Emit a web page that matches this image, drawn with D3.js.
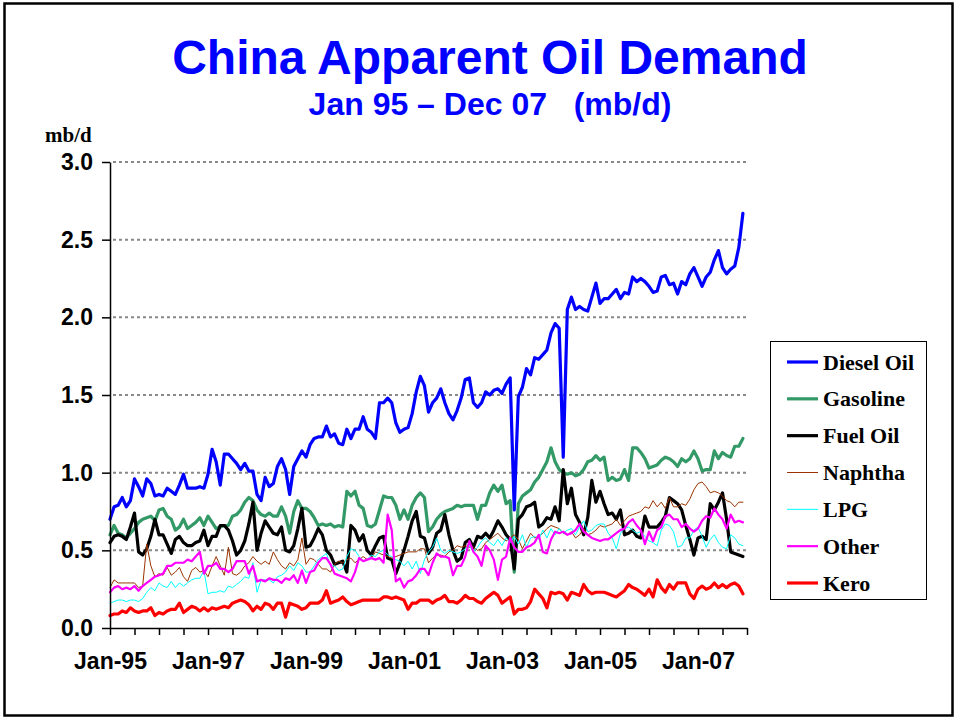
<!DOCTYPE html>
<html>
<head>
<meta charset="utf-8">
<script src="https://cdn.jsdelivr.net/npm/d3@7/dist/d3.min.js"></script>
<style>
  html, body { margin: 0; padding: 0; background: #ffffff; }
  svg { display: block; }
</style>
</head>
<body>
<svg id="chart" width="960" height="721"></svg>
<script>
// ---------------- DATA (mb/d, monthly Jan-95 .. Dec-07) ----------------
const seriesNames = ["Diesel Oil", "Gasoline", "Fuel Oil", "Naphtha", "LPG", "Other", "Kero"];
const xTickLabels = ["Jan-95", "Jan-97", "Jan-99", "Jan-01", "Jan-03", "Jan-05", "Jan-07"];
const yTickValues = [0, 0.5, 1.0, 1.5, 2.0, 2.5, 3.0];

const diesel = [
  0.70, 0.78, 0.79, 0.84, 0.78, 0.82, 0.96, 0.91, 0.85, 0.96, 0.93, 0.85,
  0.86, 0.85, 0.90, 0.88, 0.86, 0.92, 0.99, 0.90, 0.90, 0.90, 0.91, 0.90,
  0.99, 1.15, 1.07, 0.92, 1.12, 1.12, 1.09, 1.06, 1.02, 1.06, 1.01, 1.01,
  0.86, 0.82, 0.97, 0.91, 0.93, 1.04, 1.09, 1.02, 0.86, 1.04, 1.09, 1.14,
  1.10, 1.18, 1.22, 1.23, 1.23, 1.30, 1.23, 1.25, 1.19, 1.18, 1.28, 1.22,
  1.28, 1.28, 1.36, 1.28, 1.26, 1.22, 1.45, 1.45, 1.48, 1.45, 1.32, 1.26,
  1.28, 1.29, 1.38, 1.52, 1.62, 1.56, 1.39, 1.45, 1.48, 1.54, 1.45, 1.38,
  1.34, 1.40, 1.48, 1.60, 1.61, 1.45, 1.42, 1.45, 1.52, 1.50, 1.53, 1.54,
  1.51, 1.57, 1.61, 0.76, 1.49, 1.55, 1.67, 1.63, 1.74, 1.73, 1.76, 1.79,
  1.90, 1.96, 1.93, 1.10, 2.05, 2.13, 2.05, 2.07, 2.05, 2.04, 2.13, 2.22,
  2.09, 2.12, 2.12, 2.15, 2.18, 2.12, 2.16, 2.15, 2.26, 2.23, 2.25, 2.23,
  2.20, 2.16, 2.17, 2.26, 2.27, 2.21, 2.22, 2.15, 2.23, 2.21, 2.28, 2.32,
  2.26, 2.20, 2.26, 2.29, 2.37, 2.43, 2.32, 2.28, 2.31, 2.33, 2.45, 2.67
];
const gasoline = [
  0.60, 0.66, 0.61, 0.60, 0.58, 0.61, 0.64, 0.68, 0.70, 0.71, 0.72, 0.69,
  0.76, 0.77, 0.72, 0.70, 0.63, 0.65, 0.70, 0.64, 0.66, 0.68, 0.71, 0.66,
  0.72, 0.68, 0.64, 0.65, 0.66, 0.66, 0.72, 0.73, 0.76, 0.81, 0.84, 0.82,
  0.76, 0.73, 0.72, 0.74, 0.72, 0.72, 0.78, 0.72, 0.61, 0.75, 0.82, 0.77,
  0.77, 0.75, 0.71, 0.66, 0.67, 0.66, 0.67, 0.65, 0.66, 0.65, 0.88, 0.85,
  0.88, 0.79, 0.77, 0.66, 0.65, 0.67, 0.76, 0.85, 0.84, 0.84, 0.79, 0.70,
  0.76, 0.70, 0.79, 0.84, 0.87, 0.84, 0.62, 0.65, 0.70, 0.73, 0.75, 0.76,
  0.77, 0.79, 0.78, 0.79, 0.79, 0.79, 0.70, 0.79, 0.79, 0.87, 0.92, 0.88,
  0.92, 0.80, 0.82, 0.36, 0.80, 0.85, 0.87, 0.89, 0.94, 0.97, 1.02, 1.07,
  1.16, 1.07, 1.02, 1.00, 0.99, 1.00, 0.98, 0.99, 1.02, 1.07, 1.08, 1.11,
  1.08, 1.10, 0.95, 0.97, 0.95, 0.96, 1.02, 0.95, 1.16, 1.16, 1.13, 1.09,
  1.03, 1.04, 1.05, 1.08, 1.10, 1.09, 1.07, 1.04, 1.09, 1.07, 1.09, 1.14,
  1.09, 1.01, 1.02, 1.02, 1.14, 1.09, 1.13, 1.11, 1.10, 1.17, 1.17, 1.22
];
const fuelOil = [
  0.55, 0.59, 0.60, 0.59, 0.57, 0.65, 0.74, 0.49, 0.47, 0.51, 0.59, 0.70,
  0.60, 0.60, 0.54, 0.48, 0.57, 0.59, 0.55, 0.53, 0.53, 0.55, 0.56, 0.63,
  0.53, 0.59, 0.59, 0.66, 0.66, 0.63, 0.56, 0.47, 0.50, 0.56, 0.67, 0.81,
  0.50, 0.61, 0.69, 0.65, 0.61, 0.60, 0.65, 0.50, 0.49, 0.53, 0.64, 0.77,
  0.52, 0.53, 0.58, 0.64, 0.60, 0.50, 0.47, 0.41, 0.42, 0.43, 0.36, 0.66,
  0.63, 0.56, 0.60, 0.50, 0.47, 0.53, 0.58, 0.59, 0.45, 0.44, 0.35, 0.42,
  0.50, 0.59, 0.69, 0.75, 0.59, 0.58, 0.48, 0.52, 0.61, 0.63, 0.73, 0.60,
  0.50, 0.43, 0.45, 0.55, 0.57, 0.52, 0.59, 0.58, 0.61, 0.58, 0.63, 0.69,
  0.65, 0.60, 0.57, 0.38, 0.70, 0.73, 0.78, 0.79, 0.81, 0.65, 0.67, 0.71,
  0.70, 0.78, 0.69, 1.02, 0.80, 0.90, 0.73, 0.68, 0.60, 0.71, 0.95, 0.81,
  0.88, 0.80, 0.73, 0.74, 0.70, 0.76, 0.60, 0.61, 0.63, 0.59, 0.58, 0.72,
  0.65, 0.65, 0.65, 0.68, 0.72, 0.84, 0.82, 0.80, 0.76, 0.66, 0.57, 0.47,
  0.58, 0.59, 0.57, 0.80, 0.76, 0.81, 0.87, 0.70, 0.49, 0.48, 0.47, 0.46
];
const naphtha = [
  0.26, 0.31, 0.29, 0.29, 0.29, 0.29, 0.29, 0.26, 0.27, 0.54, 0.40, 0.33,
  0.35, 0.34, 0.39, 0.34, 0.36, 0.39, 0.33, 0.30, 0.37, 0.39, 0.36, 0.37,
  0.33, 0.40, 0.46, 0.40, 0.34, 0.52, 0.35, 0.34, 0.36, 0.40, 0.42, 0.46,
  0.43, 0.41, 0.43, 0.41, 0.49, 0.44, 0.40, 0.38, 0.42, 0.40, 0.44, 0.58,
  0.41, 0.45, 0.44, 0.41, 0.38, 0.38, 0.36, 0.41, 0.43, 0.42, 0.44, 0.45,
  0.42, 0.44, 0.46, 0.44, 0.45, 0.49, 0.48, 0.47, 0.46, 0.45, 0.46, 0.47,
  0.48, 0.49, 0.49, 0.49, 0.51, 0.51, 0.42, 0.45, 0.47, 0.47, 0.46, 0.49,
  0.50, 0.53, 0.52, 0.53, 0.52, 0.52, 0.50, 0.51, 0.55, 0.57, 0.59, 0.61,
  0.58, 0.56, 0.58, 0.60, 0.57, 0.51, 0.56, 0.61, 0.58, 0.59, 0.61, 0.64,
  0.66, 0.65, 0.64, 0.61, 0.60, 0.62, 0.58, 0.60, 0.64, 0.60, 0.61, 0.63,
  0.66, 0.65, 0.66, 0.67, 0.70, 0.66, 0.69, 0.72, 0.73, 0.74, 0.75, 0.78,
  0.77, 0.82, 0.78, 0.81, 0.77, 0.84, 0.78, 0.78, 0.80, 0.79, 0.83, 0.89,
  0.93, 0.94, 0.91, 0.87, 0.88, 0.87, 0.85, 0.82, 0.81, 0.78, 0.81, 0.81
];
const lpg = [
  0.16, 0.17, 0.18, 0.18, 0.17, 0.18, 0.18, 0.17, 0.19, 0.23, 0.26, 0.24,
  0.29, 0.27, 0.26, 0.30, 0.26, 0.29, 0.27, 0.29, 0.31, 0.32, 0.32, 0.37,
  0.22, 0.23, 0.23, 0.24, 0.23, 0.27, 0.26, 0.28, 0.30, 0.33, 0.32, 0.42,
  0.23, 0.31, 0.31, 0.31, 0.29, 0.33, 0.34, 0.36, 0.40, 0.37, 0.42, 0.40,
  0.36, 0.36, 0.40, 0.44, 0.46, 0.48, 0.40, 0.40, 0.37, 0.38, 0.46, 0.51,
  0.50, 0.46, 0.43, 0.44, 0.47, 0.46, 0.49, 0.50, 0.47, 0.46, 0.44, 0.43,
  0.40, 0.43, 0.38, 0.43, 0.35, 0.44, 0.49, 0.52, 0.58, 0.50, 0.48, 0.50,
  0.49, 0.48, 0.49, 0.51, 0.53, 0.49, 0.52, 0.56, 0.58, 0.55, 0.53, 0.57,
  0.53, 0.58, 0.55, 0.59, 0.54, 0.60, 0.52, 0.58, 0.59, 0.57, 0.63, 0.58,
  0.64, 0.60, 0.64, 0.61, 0.63, 0.64, 0.60, 0.65, 0.69, 0.62, 0.63, 0.66,
  0.67, 0.67, 0.61, 0.58, 0.51, 0.61, 0.64, 0.65, 0.63, 0.61, 0.62, 0.59,
  0.56, 0.55, 0.53, 0.63, 0.67, 0.66, 0.62, 0.52, 0.53, 0.58, 0.58, 0.63,
  0.65, 0.59, 0.52, 0.57, 0.60, 0.55, 0.52, 0.51, 0.60, 0.58, 0.54, 0.53
];
const other = [
  0.23, 0.26, 0.27, 0.25, 0.26, 0.25, 0.27, 0.24, 0.27, 0.29, 0.31, 0.33,
  0.34, 0.35, 0.40, 0.40, 0.42, 0.42, 0.42, 0.44, 0.43, 0.46, 0.49, 0.35,
  0.40, 0.40, 0.42, 0.38, 0.38, 0.36, 0.38, 0.43, 0.43, 0.43, 0.35, 0.40,
  0.30, 0.31, 0.30, 0.32, 0.31, 0.31, 0.29, 0.32, 0.31, 0.34, 0.29, 0.37,
  0.29, 0.36, 0.37, 0.42, 0.45, 0.45, 0.41, 0.35, 0.34, 0.33, 0.32, 0.30,
  0.36, 0.45, 0.43, 0.44, 0.45, 0.44, 0.45, 0.42, 0.73, 0.63, 0.30, 0.32,
  0.26, 0.30, 0.31, 0.34, 0.38, 0.38, 0.34, 0.42, 0.48, 0.46, 0.46, 0.45,
  0.34, 0.40, 0.40, 0.46, 0.56, 0.49, 0.46, 0.40, 0.53, 0.50, 0.44, 0.31,
  0.44, 0.46, 0.58, 0.52, 0.49, 0.49, 0.52, 0.53, 0.55, 0.60, 0.49, 0.48,
  0.57, 0.62, 0.61, 0.62, 0.60, 0.61, 0.63, 0.67, 0.62, 0.60, 0.58, 0.57,
  0.56, 0.57, 0.57, 0.59, 0.61, 0.63, 0.64, 0.68, 0.70, 0.66, 0.63, 0.54,
  0.62, 0.56, 0.63, 0.65, 0.72, 0.73, 0.70, 0.70, 0.65, 0.67, 0.64, 0.62,
  0.64, 0.69, 0.72, 0.71, 0.77, 0.73, 0.70, 0.64, 0.73, 0.68, 0.69, 0.68
];
const kero = [
  0.08, 0.09, 0.09, 0.11, 0.10, 0.13, 0.11, 0.10, 0.11, 0.11, 0.13, 0.08,
  0.10, 0.09, 0.11, 0.12, 0.12, 0.16, 0.10, 0.12, 0.14, 0.13, 0.11, 0.13,
  0.11, 0.13, 0.12, 0.13, 0.14, 0.13, 0.16, 0.17, 0.18, 0.17, 0.15, 0.11,
  0.14, 0.12, 0.16, 0.15, 0.12, 0.16, 0.16, 0.07, 0.16, 0.15, 0.14, 0.12,
  0.13, 0.16, 0.16, 0.16, 0.18, 0.24, 0.16, 0.17, 0.18, 0.20, 0.17, 0.15,
  0.16, 0.17, 0.18, 0.18, 0.18, 0.18, 0.18, 0.20, 0.20, 0.19, 0.20, 0.19,
  0.18, 0.12, 0.16, 0.16, 0.18, 0.18, 0.18, 0.16, 0.18, 0.19, 0.21, 0.17,
  0.17, 0.16, 0.18, 0.21, 0.19, 0.19, 0.17, 0.16, 0.19, 0.21, 0.23, 0.21,
  0.16, 0.18, 0.20, 0.09, 0.12, 0.12, 0.13, 0.17, 0.25, 0.22, 0.19, 0.13,
  0.23, 0.22, 0.23, 0.22, 0.18, 0.23, 0.22, 0.21, 0.28, 0.24, 0.22, 0.23,
  0.23, 0.23, 0.22, 0.21, 0.20, 0.22, 0.24, 0.28, 0.26, 0.25, 0.23, 0.21,
  0.25, 0.20, 0.31, 0.26, 0.23, 0.28, 0.25, 0.29, 0.29, 0.29, 0.22, 0.19,
  0.25, 0.27, 0.25, 0.26, 0.29, 0.26, 0.28, 0.26, 0.28, 0.29, 0.27, 0.22
];

// ---------------- STYLE ----------------
const seriesValues = [diesel, gasoline, fuelOil, naphtha, lpg, other, kero];
const seriesColors = ["#0000FF", "#339966", "#000000", "#993300", "#00FFFF", "#FF00FF", "#FF0000"];
const seriesWidths = [3.2, 3.2, 3.2, 1, 1, 2.2, 3.2];

const sansFont = "'Liberation Sans', Arial, sans-serif";
const serifFont = "'Liberation Serif', 'Times New Roman', serif";

const svg = d3.select("#chart");

// outer frame
svg.append("rect")
  .attr("x", 4.5).attr("y", 3.5).attr("width", 948).attr("height", 712)
  .attr("fill", "none").attr("stroke", "#000").attr("stroke-width", 2.5);

// titles
svg.append("text")
  .attr("x", 490).attr("y", 74).attr("text-anchor", "middle")
  .style("font-family", sansFont).style("font-weight", "bold")
  .style("font-size", "48px").attr("fill", "#0000FF")
  .text("China Apparent Oil Demand");

svg.append("text")
  .attr("x", 490).attr("y", 115).attr("text-anchor", "middle")
  .style("font-family", sansFont).style("font-weight", "bold")
  .style("font-size", "32px").style("white-space", "pre").attr("fill", "#0000FF")
  .text("Jan 95 \u2013 Dec 07   (mb/d)");

svg.append("text")
  .attr("x", 45).attr("y", 142)
  .style("font-family", serifFont).style("font-weight", "bold")
  .style("font-size", "21px").attr("fill", "#000")
  .text("mb/d");

// scales
const nMonths = diesel.length;
const x = d3.scaleLinear().domain([0, nMonths]).range([110, 747]);
const y = d3.scaleLinear().domain([0, 3]).range([628, 162]);

// gridlines
svg.append("g").selectAll("line")
  .data(yTickValues.filter(v => v > 0))
  .join("line")
  .attr("x1", 113).attr("x2", x(nMonths))
  .attr("y1", d => y(d)).attr("y2", d => y(d))
  .attr("stroke", "#888888").attr("stroke-width", 2)
  .attr("stroke-dasharray", "3,3");

// lines
const line = d3.line()
  .x((d, i) => x(i))
  .y(d => y(d));

const gLines = svg.append("g");
seriesValues.forEach((vals, k) => {
  gLines.append("path")
    .datum(vals)
    .attr("d", line)
    .attr("fill", "none")
    .attr("stroke", seriesColors[k])
    .attr("stroke-width", seriesWidths[k])
    .attr("stroke-linejoin", "round")
    .attr("stroke-linecap", "round");
});

// axes
const yAxis = d3.axisLeft(y)
  .tickValues(yTickValues)
  .tickFormat(d3.format(".1f"))
  .tickSizeInner(8).tickSizeOuter(0).tickPadding(9);

const gy = svg.append("g").attr("transform", `translate(${x(0)},0)`).call(yAxis);
gy.select(".domain").attr("stroke", "#000").attr("stroke-width", 1.5);
gy.selectAll(".tick line").attr("stroke", "#000").attr("stroke-width", 1.5);
gy.selectAll(".tick text")
  .style("font-family", sansFont).style("font-weight", "bold")
  .style("font-size", "23px").attr("fill", "#000");

const xAxis = d3.axisBottom(x)
  .tickValues(d3.range(0, nMonths + 1, 6))
  .tickFormat(d => (d % 24 === 0 && d / 24 < xTickLabels.length) ? xTickLabels[d / 24] : "")
  .tickSizeInner(7).tickSizeOuter(0).tickPadding(18);

const gx = svg.append("g").attr("transform", `translate(0,${y(0)})`).call(xAxis);
gx.select(".domain").attr("stroke", "#000").attr("stroke-width", 1.5);
gx.selectAll(".tick line").attr("stroke", "#000").attr("stroke-width", 1.5);
gx.selectAll(".tick text")
  .style("font-family", sansFont).style("font-weight", "bold")
  .style("font-size", "23px").attr("fill", "#000");

// legend
const legend = svg.append("g");
legend.append("rect")
  .attr("x", 770.5).attr("y", 341.5).attr("width", 156).attr("height", 258)
  .attr("fill", "#fff").attr("stroke", "#000").attr("stroke-width", 1);

const rowY = d3.scalePoint().domain(seriesNames).range([362, 583]);
seriesNames.forEach((name, k) => {
  const cy = rowY(name);
  legend.append("line")
    .attr("x1", 787).attr("x2", 818).attr("y1", cy).attr("y2", cy)
    .attr("stroke", seriesColors[k]).attr("stroke-width", seriesWidths[k]);
  legend.append("text")
    .attr("x", 823).attr("y", cy + 7.5)
    .style("font-family", serifFont).style("font-weight", "bold")
    .style("font-size", "22px").attr("fill", "#000")
    .text(name);
});
</script>
</body>
</html>
